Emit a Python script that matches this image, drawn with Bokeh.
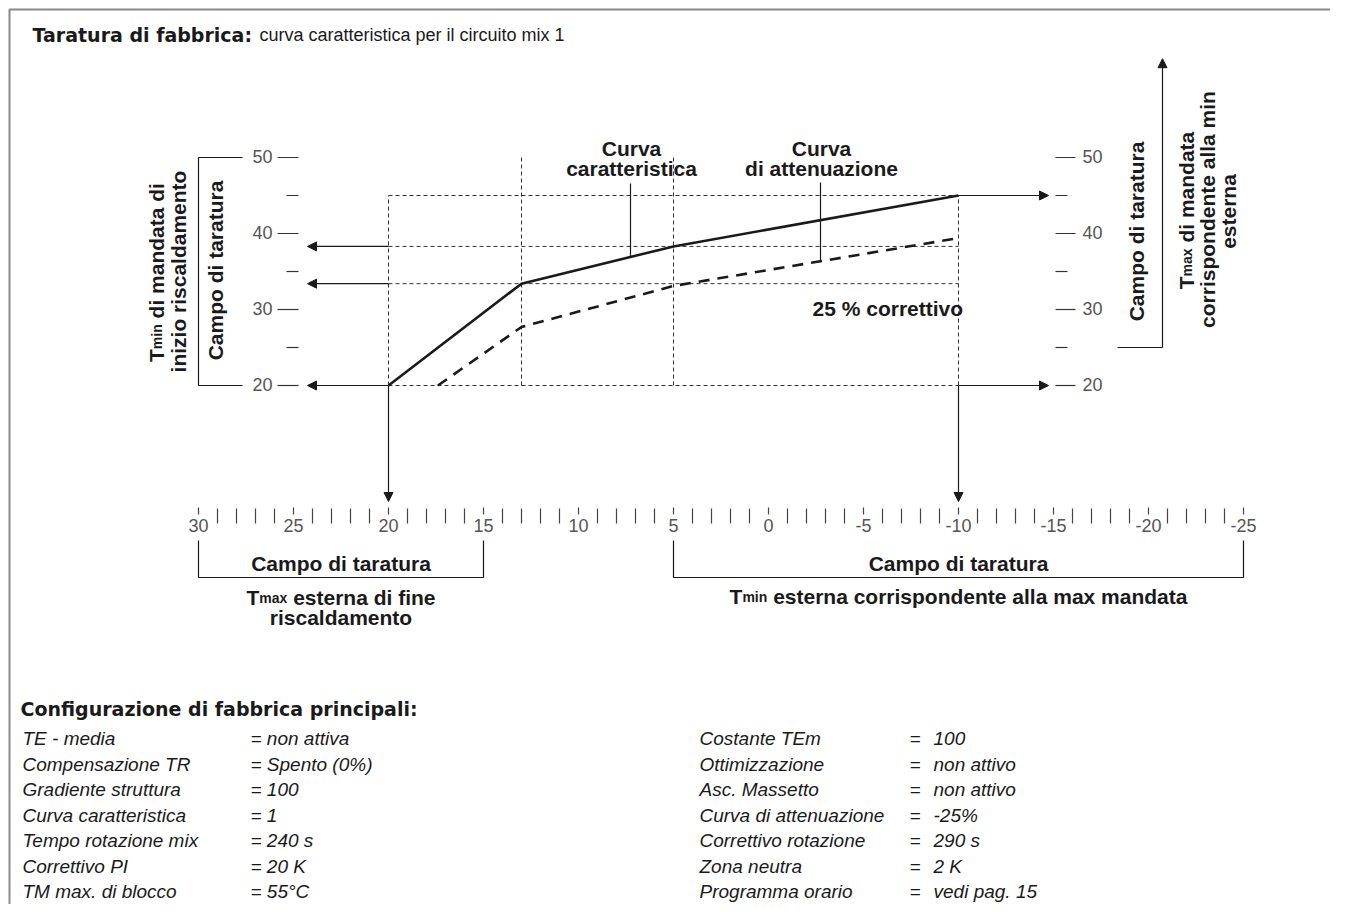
import math
import numpy as np
from bokeh.plotting import figure
from bokeh.models import Range1d, Label, Arrow, NormalHead
from bokeh.core.properties import value
from bokeh.embed import file_html
from bokeh.resources import INLINE

# ---------------- data ----------------
title_bold = "Taratura di fabbrica:"
title_rest = "curva caratteristica per il circuito mix 1"

outside_labels = [30, 25, 20, 15, 10, 5, 0, -5, -10, -15, -20, -25]      # outside temperature, °C
outside_minor = [29, 28, 27, 26, 24, 23, 22, 21, 19, 18, 17, 16, 14, 13, 12, 11,
                 9, 8, 7, 6, 4, 3, 2, 1, -1, -2, -3, -4, -6, -7, -8, -9,
                 -11, -12, -13, -14, -16, -17, -18, -19, -21, -22, -23, -24]
flow_labels = [20, 30, 40, 50]                                            # flow temperature, °C
flow_minor = [25, 35, 45]

curve_out = [20, 13, 5, -10]          # Curva caratteristica
curve_flow = [20, 33.4, 38.3, 45]
atten_out = [17.4, 13, 5, -10]        # Curva di attenuazione
atten_flow = [20, 27.7, 33.1, 39.4]

end_heating_range = [30, 15]          # Tmax esterna di fine riscaldamento
min_outside_range = [5, -25]          # Tmin esterna corrispondente alla max mandata
start_flow_range = [20, 50]           # Tmin di mandata di inizio riscaldamento
max_flow_range = [25, 63]             # Tmax di mandata corrispondente alla min esterna

cfg_title = "Configurazione di fabbrica principali:"
cfg_left_names = ["TE - media", "Compensazione TR", "Gradiente struttura", "Curva caratteristica",
                  "Tempo rotazione mix", "Correttivo PI", "TM max. di blocco"]
cfg_left_values = ["= non attiva", "= Spento (0%)", "= 100", "= 1", "= 240 s", "= 20 K", "= 55°C"]
cfg_right_names = ["Costante TEm", "Ottimizzazione", "Asc. Massetto", "Curva di attenuazione",
                   "Correttivo rotazione", "Zona neutra", "Programma orario"]
cfg_right_values = ["100", "non attivo", "non attivo", "-25%", "290 s", "2 K", "vedi pag. 15"]

# ---------------- layout ----------------
W, H = 1330, 904
OFF = 0
TSHIFT = 7          # baseline correction of rendered text, px
FONT = "Liberation Sans"
HEAVY = "DejaVu Sans"
INK = "#1a1a1a"
GREY = "#555555"


def X(px):  # page x -> outside temperature
    return 20 - (px - 388) / 19.0


def Y(py):  # page y -> flow temperature
    return 20 + (385 - py) / 7.6


def PY(f):  # flow temperature -> page y
    return 385 - (f - 20) * 7.6


def PX(t):  # outside temperature -> page x
    return 388 + (20 - t) * 19.0


p = figure(width=W, height=H, x_range=Range1d(X(OFF), X(OFF + W)),
           y_range=Range1d(Y(OFF + H), Y(OFF)), output_backend="svg",
           toolbar_location=None, min_border=0, x_axis_location=None, y_axis_location=None)
p.grid.grid_line_color = None
p.outline_line_color = None
p.background_fill_color = "white"
p.border_fill_color = "white"


def label(text, px, py, size=21, style="bold", font=FONT, align="left", color=INK, angle=0.0):
    if angle == 0:
        py -= TSHIFT
    else:
        px -= TSHIFT
    p.add_layout(Label(x=X(px), y=Y(py), text=text, text_font=font, text_font_size=f"{size}px",
                       text_font_style=style, text_align=align, text_baseline="alphabetic",
                       text_color=color, angle=angle))


BW = {' ': 278, 'T': 611, 'a': 556, 'b': 611, 'c': 556, 'd': 611, 'e': 556, 'f': 333, 'g': 611,
      'i': 278, 'l': 278, 'm': 889, 'n': 611, 'o': 611, 'p': 611, 'r': 389, 's': 556, 't': 333,
      'u': 611, 'x': 556, 'z': 500}


def rich(pieces, center, base, rotated=False):
    widths = [sum(BW.get(c, 556) for c in t) * s / 1000.0 for t, s in pieces]
    pos = -sum(widths) / 2.0
    for (t, s), w in zip(pieces, widths):
        lead = len(t) - len(t.lstrip(' '))
        off = pos + lead * BW[' '] * s / 1000.0
        if rotated:
            label(t.strip(), base, center - off, size=s, angle=math.pi / 2)
        else:
            label(t.strip(), center + off, base, size=s)
        pos += w


# frame
p.line([X(9), X(9), X(1346)], [Y(925), Y(9), Y(9)], color="#8a8a8a", line_width=2)

# title
label(title_bold, 32, 41, size=19, font=HEAVY)
label(title_rest, 259, 41, size=18, style="normal")

# dashed guide lines
hx, hy = [], []
for f in [45, curve_flow[2], curve_flow[1], curve_flow[0]]:
    hx.append([curve_out[0], curve_out[-1]])
    hy.append([f, f])
for t, top in [(curve_out[0], 45), (curve_out[1], 50), (curve_out[2], 50), (curve_out[3], 45)]:
    hx.append([t, t])
    hy.append([curve_flow[0], top])
p.multi_line(hx, hy, line_color="#333333", line_width=1, line_dash="4 3")

# curves
p.line(curve_out, curve_flow, line_color=INK, line_width=2.6)
p.line(atten_out, atten_flow, line_color=INK, line_width=2.6, line_dash="11 8")


def arrow(x0, y0, x1, y1):
    p.add_layout(Arrow(end=NormalHead(size=9, fill_color=INK, line_color=INK, line_width=1),
                       x_start=x0, y_start=y0, x_end=x1, y_end=y1,
                       line_color=INK, line_width=1.2))


for f in [curve_flow[2], curve_flow[1], curve_flow[0]]:
    arrow(curve_out[0], f, X(307), f)
for f in [curve_flow[-1], curve_flow[0]]:
    arrow(curve_out[-1], f, X(1048), f)
for t in [curve_out[0], curve_out[-1]]:
    arrow(t, curve_flow[0], t, Y(501))

# left and right flow scales
sx, sy = [], []
for f in flow_labels:
    sx += [[X(277), X(298)], [X(1055), X(1075)]]
    sy += [[f, f], [f, f]]
for f in flow_minor:
    sx += [[X(286), X(298)], [X(1055), X(1067)]]
    sy += [[f, f], [f, f]]
p.multi_line(sx, sy, line_color="#333333", line_width=1.2)
ny = [Y(PY(f) + 0.36 * 18 - TSHIFT) for f in flow_labels]
p.text(x=[X(272)] * len(flow_labels), y=ny, text=[str(f) for f in flow_labels],
       text_font=value(FONT), text_font_size="18px", text_align="right", text_baseline="alphabetic",
       text_color=GREY)
p.text(x=[X(1082)] * len(flow_labels), y=ny, text=[str(f) for f in flow_labels],
       text_font=value(FONT), text_font_size="18px", text_align="left", text_baseline="alphabetic",
       text_color=GREY)

# left bracket
p.line([X(242), X(198), X(198), X(242)],
       [start_flow_range[1], start_flow_range[1], start_flow_range[0], start_flow_range[0]],
       line_color=INK, line_width=1.2)
# right bracket with arrow
p.line([X(1117), X(1162)], [max_flow_range[0], max_flow_range[0]], line_color=INK, line_width=1.2)
arrow(X(1162), max_flow_range[0], X(1162), max_flow_range[1])

# bottom outside-temperature scale
bx, by = [], []
for t in outside_minor:
    bx.append([t, t])
    by.append([Y(508), Y(523)])
for t in outside_labels:
    bx.append([t, t])
    by.append([Y(507), Y(514)])
p.multi_line(bx, by, line_color="#444444", line_width=1.2)
p.text(x=outside_labels, y=[Y(532 - TSHIFT)] * len(outside_labels), text=[str(t) for t in outside_labels],
       text_font=value(FONT), text_font_size="18px", text_align="center", text_baseline="alphabetic",
       text_color=GREY)

# bottom brackets
for r in [end_heating_range, min_outside_range]:
    p.line([r[0], r[0], r[1], r[1]], [Y(540), Y(577), Y(577), Y(540)], line_color=INK, line_width=1.2)

cL = (PX(end_heating_range[0]) + PX(end_heating_range[1])) / 2
cR = (PX(min_outside_range[0]) + PX(min_outside_range[1])) / 2
label("Campo di taratura", cL, 570, align="center")
label("Campo di taratura", cR, 570, align="center")
rich([("T", 21), ("max", 14), (" esterna di fine", 21)], cL, 604)
label("riscaldamento", cL, 624, align="center")
rich([("T", 21), ("min", 14), (" esterna corrispondente alla max mandata", 21)], cR, 603)

# rotated side labels
label("Campo di taratura", 222, 270, align="center", angle=math.pi / 2)
rich([("T", 21), ("min", 14), (" di mandata di", 21)], 272, 163, rotated=True)
label("inizio riscaldamento", 185, 271, align="center", angle=math.pi / 2)

label("Campo di taratura", 1143, 231, align="center", angle=math.pi / 2)
rich([("T", 21), ("max", 14), (" di mandata", 21)], 210, 1193, rotated=True)
label("corrispondente alla min", 1214, 209, align="center", angle=math.pi / 2)
label("esterna", 1235, 211, align="center", angle=math.pi / 2)

# curve annotations
label("Curva", 631, 155, align="center")
label("caratteristica", 631, 175, align="center")
label("Curva", 821, 155, align="center")
label("di attenuazione", 821, 175, align="center")
t1, t2 = X(630), X(820)
y1 = float(np.interp(t1, curve_out[::-1], curve_flow[::-1]))
y2 = float(np.interp(t2, atten_out[::-1], atten_flow[::-1]))
p.multi_line([[t1, t1], [t2, t2]], [[Y(183), y1], [Y(182), y2]], line_color=INK, line_width=1.2)
label("25 % correttivo", 812, 315)

# factory configuration
label(cfg_title, 20, 715, size=19, font=HEAVY)
for i, (n, v) in enumerate(zip(cfg_left_names, cfg_left_values)):
    yb = 745 + 25.5 * i
    label(n, 22, yb, size=19, style="italic")
    label(v, 250, yb, size=19, style="italic")
for i, (n, v) in enumerate(zip(cfg_right_names, cfg_right_values)):
    yb = 745 + 25.5 * i
    label(n, 699, yb, size=19, style="italic")
    label("=", 909, yb, size=19, style="italic")
    label(v, 933, yb, size=19, style="italic")

open("out.html", "w").write(file_html(p, INLINE))
